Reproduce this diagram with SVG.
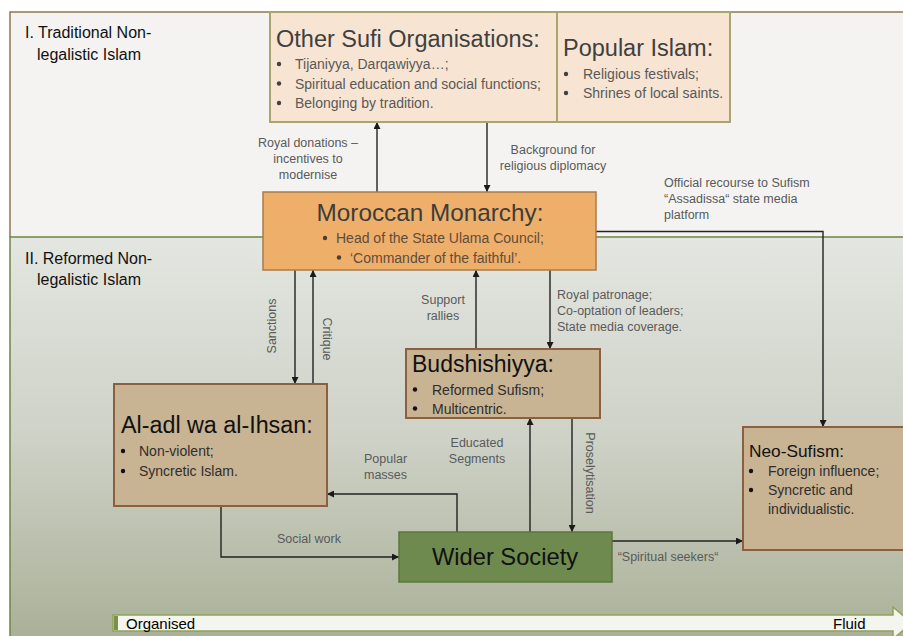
<svg xmlns="http://www.w3.org/2000/svg" width="903" height="636" viewBox="0 0 903 636">
<defs>
<linearGradient id="gReform" x1="0" y1="0" x2="0" y2="1">
<stop offset="0" stop-color="#e4e6e1"/>
<stop offset="0.5" stop-color="#cdd1c6"/>
<stop offset="1" stop-color="#a8af95"/>
</linearGradient>
<marker id="ah" viewBox="0 0 10 10" refX="10" refY="5" markerWidth="7" markerHeight="7" markerUnits="userSpaceOnUse" orient="auto">
<path d="M0,0 L10,5 L0,10 z" fill="#1a1a1a"/>
</marker>
<style>
.lbl{font-family:"Liberation Sans",Arial,sans-serif;font-size:12.5px;fill:#5a5a5a}
.sec{font-family:"Liberation Sans",Arial,sans-serif;font-size:16px;fill:#111}
.bt{font-family:"Liberation Sans",Arial,sans-serif;font-size:14px}
.ttl{font-family:"Liberation Sans",Arial,sans-serif}
.con{fill:none;stroke:#222;stroke-width:1.4;marker-end:url(#ah)}
.peach{fill:#f8e4d2;stroke:#a9a56f;stroke-width:2}
.tan{fill:#c8b393;stroke:#8c5f3f;stroke-width:2}
</style>
</defs>
<rect x="0" y="0" width="903" height="636" fill="#ffffff"/>
<g id="panel-traditional">
<rect x="10" y="12" width="900" height="225" fill="#f4f3f1"/>
<path d="M10,237 L10,12 L903,12" fill="none" stroke="#8a7a50" stroke-width="1.5"/>
<text class="sec" x="25" y="38">I. Traditional Non-</text>
<text class="sec" x="37" y="60">legalistic Islam</text>
</g>
<g id="panel-reformed">
<rect x="10" y="237" width="900" height="410" fill="url(#gReform)"/>
<path d="M10,640 L10,237 L903,237" fill="none" stroke="#6f8444" stroke-width="1.5"/>
<text class="sec" x="25" y="264">II. Reformed Non-</text>
<text class="sec" x="37" y="285">legalistic Islam</text>
</g>
<g id="connectors">
<path class="con" d="M377,192 L377,122"/>
<path class="con" d="M487,122 L487,192"/>
<path class="con" d="M596,231.5 L823,231.5 L823,427"/>
<path class="con" d="M295,270 L295,384"/>
<path class="con" d="M313,384 L313,270"/>
<path class="con" d="M476,349 L476,270"/>
<path class="con" d="M550,270 L550,349"/>
<path class="con" d="M457,532 L457,494 L327,494"/>
<path class="con" d="M530,532 L530,418"/>
<path class="con" d="M572,418 L572,532"/>
<path class="con" d="M221,506 L221,557 L399,557"/>
<path class="con" d="M612,541 L743,541"/>
<text class="lbl" text-anchor="middle"><tspan x="308" y="147">Royal donations –</tspan><tspan x="308" y="163">incentives to</tspan><tspan x="308" y="179">modernise</tspan></text>
<text class="lbl" text-anchor="middle"><tspan x="553" y="154">Background for</tspan><tspan x="553" y="170">religious diplomacy</tspan></text>
<text class="lbl"><tspan x="664" y="187">Official recourse to Sufism</tspan><tspan x="664" y="203">“Assadissa“ state media</tspan><tspan x="664" y="219">platform</tspan></text>
<text class="lbl" text-anchor="middle" transform="translate(272,326) rotate(-90)" y="4">Sanctions</text>
<text class="lbl" text-anchor="middle" transform="translate(327,339) rotate(90)" y="4">Critique</text>
<text class="lbl" text-anchor="middle"><tspan x="443" y="304">Support</tspan><tspan x="443" y="320">rallies</tspan></text>
<text class="lbl"><tspan x="557" y="299">Royal patronage;</tspan><tspan x="557" y="315">Co-optation of leaders;</tspan><tspan x="557" y="331">State media coverage.</tspan></text>
<text class="lbl"><tspan x="364" y="463">Popular</tspan><tspan x="364" y="479">masses</tspan></text>
<text class="lbl" text-anchor="middle"><tspan x="477" y="447">Educated</tspan><tspan x="477" y="463">Segments</tspan></text>
<text class="lbl" text-anchor="middle" transform="translate(590,473) rotate(90)" y="4">Proselytisation</text>
<text class="lbl" text-anchor="middle" x="309" y="543">Social work</text>
<text class="lbl" text-anchor="middle" x="668" y="561">“Spiritual seekers“</text>
</g>
<g id="node-other-sufi">
<rect class="peach" x="270" y="12" width="287" height="110"/>
<text class="ttl" x="276" y="47" font-size="23.5" fill="#404040">Other Sufi Organisations:</text>
<g class="bt" fill="#595959">
<circle cx="279" cy="64" r="2.2" fill="#404040"/><text x="295" y="69">Tijaniyya, Darqawiyya…;</text>
<circle cx="279" cy="83.5" r="2.2" fill="#404040"/><text x="295" y="88.5">Spiritual education and social functions;</text>
<circle cx="279" cy="103" r="2.2" fill="#404040"/><text x="295" y="108">Belonging by tradition.</text>
</g>
</g>
<g id="node-popular-islam">
<rect class="peach" x="557" y="12" width="173" height="110"/>
<text class="ttl" x="563" y="56" font-size="23.5" fill="#404040">Popular Islam:</text>
<g class="bt" fill="#595959">
<circle cx="566" cy="74" r="2.2" fill="#404040"/><text x="583" y="79">Religious festivals;</text>
<circle cx="566" cy="93" r="2.2" fill="#404040"/><text x="583" y="98">Shrines of local saints.</text>
</g>
</g>
<g id="node-monarchy">
<rect x="263" y="192" width="333" height="78" fill="#eeaf6b" stroke="#a67c4c" stroke-width="1.5"/>
<text class="ttl" x="430" y="221" font-size="24.3" fill="#3d3d3d" text-anchor="middle">Moroccan Monarchy:</text>
<g class="bt" fill="#5e4d3c">
<circle cx="325" cy="238" r="2.2" fill="#4a3e33"/><text x="336" y="243">Head of the State Ulama Council;</text>
<circle cx="339" cy="257.5" r="2.2" fill="#4a3e33"/><text x="350" y="262.5">‘Commander of the faithful’.</text>
</g>
</g>
<g id="node-budshishiyya">
<rect class="tan" x="406" y="349" width="194" height="69"/>
<text class="ttl" x="412" y="372" font-size="23" fill="#111">Budshishiyya:</text>
<g class="bt" fill="#2e2e2e">
<circle cx="415" cy="389.5" r="2.2" fill="#111"/><text x="432" y="394.5">Reformed Sufism;</text>
<circle cx="415" cy="408.5" r="2.2" fill="#111"/><text x="432" y="413.5">Multicentric.</text>
</g>
</g>
<g id="node-aladl">
<rect class="tan" x="114" y="384" width="213" height="122"/>
<text class="ttl" x="121" y="433" font-size="23.3" fill="#111">Al-adl wa al-Ihsan:</text>
<g class="bt" fill="#2e2e2e">
<circle cx="123" cy="451" r="2.2" fill="#111"/><text x="139" y="456">Non-violent;</text>
<circle cx="123" cy="471" r="2.2" fill="#111"/><text x="139" y="476">Syncretic Islam.</text>
</g>
</g>
<g id="node-neosufism">
<rect class="tan" x="743" y="427" width="170" height="123"/>
<text class="ttl" x="749" y="457" font-size="17.3" fill="#111">Neo-Sufism:</text>
<g class="bt" fill="#2e2e2e">
<circle cx="751" cy="471" r="2.2" fill="#111"/><text x="768" y="476">Foreign influence;</text>
<circle cx="751" cy="490" r="2.2" fill="#111"/><text x="768" y="495">Syncretic and</text>
<text x="768" y="514">individualistic.</text>
</g>
</g>
<g id="node-wider-society">
<rect x="399" y="532" width="213" height="50" fill="#6f8a4e" stroke="#5c7540" stroke-width="1.5"/>
<text class="ttl" x="505" y="565" font-size="23.7" fill="#111" text-anchor="middle">Wider Society</text>
</g>
<g id="scale-arrow">
<polygon points="113,615 893,615 893,607 912,623 893,639 893,631 113,631" fill="#f3f5ee" stroke="#8fa35a" stroke-width="1.5"/>
<rect x="114" y="616" width="4" height="14" fill="#7b9148"/>
<text x="126" y="629" font-family="'Liberation Sans',Arial,sans-serif" font-size="15" fill="#000">Organised</text>
<text x="833" y="629" font-family="'Liberation Sans',Arial,sans-serif" font-size="15" fill="#000">Fluid</text>
</g>
</svg>
